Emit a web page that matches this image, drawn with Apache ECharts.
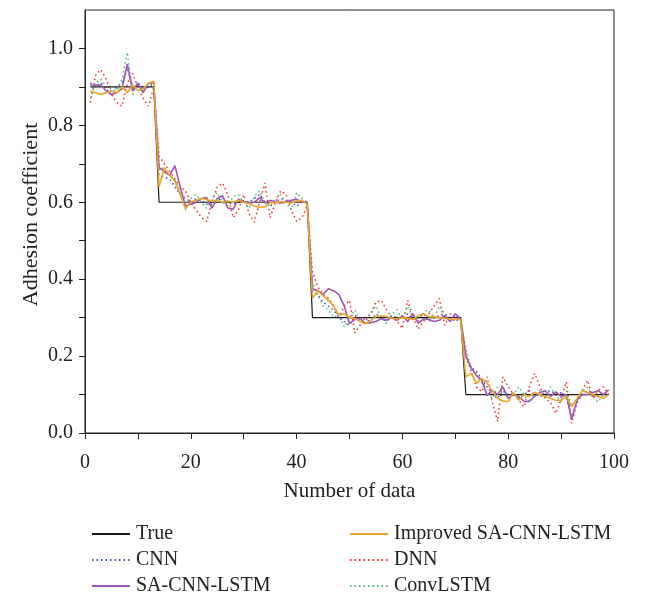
<!DOCTYPE html>
<html><head><meta charset="utf-8">
<script src="https://cdn.jsdelivr.net/npm/echarts@6/dist/echarts.min.js"></script>
<style>html,body{margin:0;padding:0;background:#fff}#c{width:645px;height:599px}</style>
</head><body><div id="c"></div>
<script>
const xStart = 1;
const trueVals = [].concat(Array(13).fill(0.9), Array(29).fill(0.6), Array(29).fill(0.3), Array(28).fill(0.1));
const cnnVals = [0.91,0.9,0.91,0.895,0.88,0.9,0.91,0.95,0.9,0.905,0.89,0.9,0.91,
 0.67,0.665,0.66,0.64,0.62,0.61,0.6,0.61,0.605,0.595,0.6,0.605,0.612,0.6,0.595,0.6,0.605,0.6,0.61,0.62,0.6,0.59,0.6,0.61,0.605,0.6,0.59,0.6,0.6,
 0.37,0.36,0.34,0.33,0.32,0.3,0.29,0.28,0.305,0.3,0.295,0.29,0.31,0.3,0.29,0.305,0.3,0.3,0.31,0.295,0.3,0.31,0.29,0.3,0.305,0.31,0.3,0.29,0.3,
 0.2,0.17,0.16,0.14,0.12,0.1,0.09,0.11,0.1,0.105,0.09,0.1,0.11,0.1,0.095,0.1,0.11,0.1,0.105,0.09,0.04,0.08,0.1,0.11,0.1,0.095,0.105,0.1];
const saVals = [0.905,0.905,0.905,0.89,0.88,0.885,0.895,0.96,0.89,0.91,0.885,0.91,0.91,
 0.69,0.68,0.67,0.695,0.64,0.59,0.595,0.6,0.61,0.612,0.585,0.61,0.617,0.585,0.582,0.608,0.6,0.598,0.6,0.612,0.598,0.605,0.6,0.598,0.6,0.605,0.608,0.6,0.6,
 0.375,0.37,0.36,0.375,0.37,0.36,0.33,0.285,0.295,0.298,0.285,0.287,0.29,0.297,0.293,0.3,0.293,0.305,0.29,0.31,0.285,0.297,0.295,0.29,0.293,0.305,0.29,0.31,0.295,
 0.2,0.17,0.15,0.137,0.098,0.11,0.1,0.12,0.09,0.1,0.095,0.082,0.082,0.095,0.105,0.11,0.095,0.107,0.095,0.1,0.035,0.085,0.1,0.1,0.105,0.11,0.1,0.112];
const impVals = [0.89,0.885,0.88,0.885,0.89,0.885,0.9,0.885,0.905,0.89,0.895,0.91,0.915,
 0.64,0.69,0.67,0.655,0.62,0.583,0.6,0.605,0.61,0.607,0.603,0.605,0.6,0.603,0.6,0.605,0.6,0.597,0.59,0.587,0.588,0.6,0.598,0.602,0.6,0.598,0.603,0.605,0.595,
 0.35,0.37,0.357,0.345,0.33,0.306,0.31,0.3,0.298,0.29,0.284,0.292,0.303,0.305,0.303,0.298,0.297,0.3,0.298,0.295,0.305,0.31,0.302,0.302,0.3,0.298,0.297,0.295,0.295,
 0.146,0.155,0.129,0.142,0.13,0.11,0.09,0.083,0.082,0.105,0.085,0.1,0.095,0.105,0.1,0.095,0.09,0.085,0.085,0.095,0.068,0.09,0.11,0.105,0.1,0.095,0.09,0.1];
const dnnVals = [0.86,0.93,0.945,0.92,0.88,0.86,0.85,0.91,0.935,0.9,0.87,0.85,0.9,
 0.72,0.7,0.68,0.66,0.64,0.63,0.6,0.58,0.56,0.55,0.6,0.64,0.65,0.62,0.56,0.58,0.62,0.57,0.548,0.6,0.65,0.56,0.6,0.63,0.62,0.58,0.55,0.56,0.59,
 0.42,0.38,0.36,0.35,0.33,0.3,0.33,0.345,0.26,0.28,0.29,0.31,0.34,0.345,0.32,0.3,0.29,0.272,0.345,0.3,0.27,0.29,0.31,0.33,0.35,0.28,0.31,0.3,0.29,
 0.2,0.16,0.12,0.107,0.146,0.08,0.03,0.146,0.12,0.1,0.085,0.068,0.12,0.155,0.12,0.09,0.08,0.051,0.09,0.133,0.025,0.08,0.11,0.137,0.09,0.11,0.12,0.1];
const convVals = [0.87,0.91,0.92,0.9,0.895,0.89,0.92,0.99,0.88,0.91,0.9,0.905,0.9,
 0.7,0.68,0.67,0.66,0.63,0.58,0.61,0.62,0.6,0.585,0.61,0.625,0.6,0.59,0.615,0.62,0.6,0.585,0.615,0.63,0.6,0.59,0.61,0.62,0.6,0.58,0.625,0.61,0.6,
 0.39,0.36,0.33,0.32,0.3,0.31,0.275,0.3,0.32,0.29,0.3,0.31,0.33,0.3,0.285,0.31,0.32,0.295,0.33,0.3,0.29,0.315,0.32,0.3,0.33,0.31,0.295,0.31,0.3,
 0.22,0.165,0.15,0.13,0.1,0.09,0.12,0.11,0.09,0.1,0.12,0.1,0.08,0.105,0.11,0.09,0.12,0.1,0.08,0.11,0.07,0.09,0.1,0.12,0.095,0.08,0.1,0.11];
const xTickLabels = [0,20,40,60,80,100];
const xTicks = [0,10,20,30,40,50,60,70,80,90,100];
const yTickLabels = [0,0.2,0.4,0.6,0.8,1.0];
const yTicks = [0,0.1,0.2,0.3,0.4,0.5,0.6,0.7,0.8,0.9,1.0];

const pts = v => v.map((y,i)=>[xStart+i,y]);
const FONT = 'Liberation Serif';
const mk = (name, vals, color, type, width, z) => ({
  name, type:'line', data: pts(vals), showSymbol:false, symbol:'none', z,
  lineStyle:{color, type, width}, itemStyle:{color}, animation:false
});
const dot = [1.5, 3];
const legendBase = {orient:'vertical',itemWidth:38,itemHeight:10,itemGap:6,height:120,
  itemStyle:{color:'transparent',borderColor:'transparent',borderWidth:0,opacity:0},
  textStyle:{fontFamily:FONT,fontSize:20,lineHeight:20,color:'#222',padding:[0,0,0,1]}};
const chart = echarts.init(document.getElementById('c'));
chart.setOption({
  backgroundColor:'#fff',
  animation:false,
  grid:{left:85,right:31,top:10,bottom:166,show:true,borderColor:'#222',borderWidth:1},
  xAxis:{type:'value',min:0,max:100,
    name:'Number of data',nameLocation:'middle',nameGap:48,nameMoveOverlap:false,
    nameTextStyle:{fontFamily:FONT,fontSize:21,color:'#222'},
    axisLine:{lineStyle:{color:'#222',width:1}},
    axisTick:{show:true,customValues:xTicks,length:6,lineStyle:{color:'#222'}},
    axisLabel:{customValues:xTickLabels,margin:20,fontFamily:FONT,fontSize:20,color:'#222'},
    splitLine:{show:false}},
  yAxis:{type:'value',min:0,max:1.1,
    name:'Adhesion coefficient',nameLocation:'middle',nameGap:43,nameRotate:90,nameMoveOverlap:false,
    nameTextStyle:{fontFamily:FONT,fontSize:22,color:'#222',padding:[0,0,0,14]},
    axisLine:{show:true,lineStyle:{color:'#222',width:1}},
    axisTick:{show:true,customValues:yTicks,length:6,lineStyle:{color:'#222'}},
    axisLabel:{customValues:yTickLabels,margin:12,fontFamily:FONT,fontSize:20,color:'#222',formatter:v=>v.toFixed(1)},
    splitLine:{show:false}},
  legend:[
    Object.assign({left:86,top:519,data:['True','CNN','SA-CNN-LSTM']}, legendBase),
    Object.assign({left:344,top:519,data:['Improved SA-CNN-LSTM','DNN','ConvLSTM']}, legendBase)
  ],
  series:[
    mk('DNN', dnnVals, '#ff2a2a', dot, 1.5, 2),
    mk('CNN', cnnVals, '#3a55c8', dot, 1.5, 3),
    mk('ConvLSTM', convVals, '#4cbb7a', dot, 1.5, 3),
    mk('True', trueVals, '#1a1a1a', 'solid', 1.2, 4),
    mk('SA-CNN-LSTM', saVals, '#a055b4', 'solid', 1.6, 5),
    mk('Improved SA-CNN-LSTM', impVals, '#eaa62a', 'solid', 1.6, 6)
  ]
});
</script></body></html>
